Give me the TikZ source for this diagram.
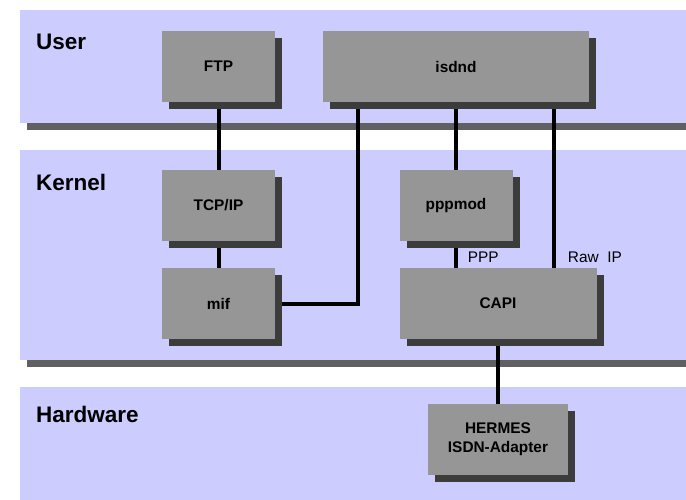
\documentclass[tikz,border=0pt]{standalone}
\usepackage{fontspec}
\setmainfont{Liberation Sans}
\usepackage{tikz}
\usetikzlibrary{shadows}
\usepackage{tkz-berge}
\definecolor{bandblue}{RGB}{204,204,255}
\definecolor{boxgray}{RGB}{150,150,150}
\definecolor{boxshade}{RGB}{60,60,60}
\definecolor{barshade}{RGB}{96,96,96}
\pgfdeclarelayer{back}
\pgfdeclarelayer{wire}
\pgfsetlayers{back,wire,main}

\begin{document}
\begin{tikzpicture}[x=1pt,y=-1pt]
		\useasboundingbox (0,0) rectangle (686,500);
		\tikzstyle{LayerStyle}=[anchor=base west,inner sep=0pt,font=\fontsize{22.5}{27}\selectfont\bfseries]
		\tikzstyle{TagStyle}=[anchor=base west,inner sep=0pt,font=\fontsize{15.4}{19}\selectfont]
		\begin{pgfonlayer}{back}
			\fill[barshade] (27,123) rectangle (686,130);
			\fill[bandblue] (20,10) rectangle (686,123);
			\fill[barshade] (27,360) rectangle (686,367);
			\fill[bandblue] (20,150) rectangle (686,360);
			\fill[bandblue] (20,387) rectangle (686,500);
		\end{pgfonlayer}
		\node[LayerStyle] (user) at (36,49.3) {User};
		\node[LayerStyle] (kernel) at (36,190) {Kernel};
		\node[LayerStyle] (hardware) at (36,422.3) {Hardware};
		\GraphInit[vstyle=Normal]
		\tikzset{VertexStyle/.style = {rectangle,fill=boxgray,minimum width=113pt,minimum height=71pt,inner sep=0pt,align=center,
			font=\fontsize{15.4}{19}\selectfont\bfseries,
			drop shadow={shadow xshift=7pt,shadow yshift=-7pt,fill=boxshade,opacity=1}}}
		\Vertex[x=218.5,y=66.5,L=FTP]{FTP}
		\Vertex[x=218.5,y=205.5,L=TCP/IP]{TCP}
		\Vertex[x=218.5,y=303.5,L=mif]{mif}
		\Vertex[x=456,y=205.5,L=pppmod]{pppmod}
		{
			\tikzset{VertexStyle/.append style = {minimum width=266pt}}
			\Vertex[x=456,y=66.5,L=isdnd]{isdnd}
		}
		{
			\tikzset{VertexStyle/.append style = {minimum width=197pt}}
			\Vertex[x=498,y=303.5,L=CAPI]{CAPI}
		}
		{
			\tikzset{VertexStyle/.append style = {minimum width=140pt}}
			\Vertex[x=498,y=439.5,L={HERMES\\ISDN-Adapter}]{HERMES}
		}
		\node[TagStyle] (ppp) at (467.7,262.7) {PPP};
		\node[TagStyle] (rawip) at (567.7,262.7) {Raw\ \ IP};
		\coordinate (mifup) at (358,0);
		\coordinate (rawup) at (554,0);
		\tikzstyle{EdgeStyle}=[draw=black,line width=4pt]
		\begin{pgfonlayer}{wire}
			\Edge[](FTP)(TCP)
			\Edge[](TCP)(mif)
			\Edge[](isdnd)(pppmod)
			\Edge[](CAPI)(HERMES)
			\draw[EdgeStyle] (pppmod.south) -- (CAPI.north -| pppmod.south);
			\draw[EdgeStyle] (isdnd.south -| rawup) -- (CAPI.north -| rawup);
			\draw[EdgeStyle] (mif.east) -| (isdnd.south -| mifup);
		\end{pgfonlayer}
	\end{tikzpicture}
\end{document}
